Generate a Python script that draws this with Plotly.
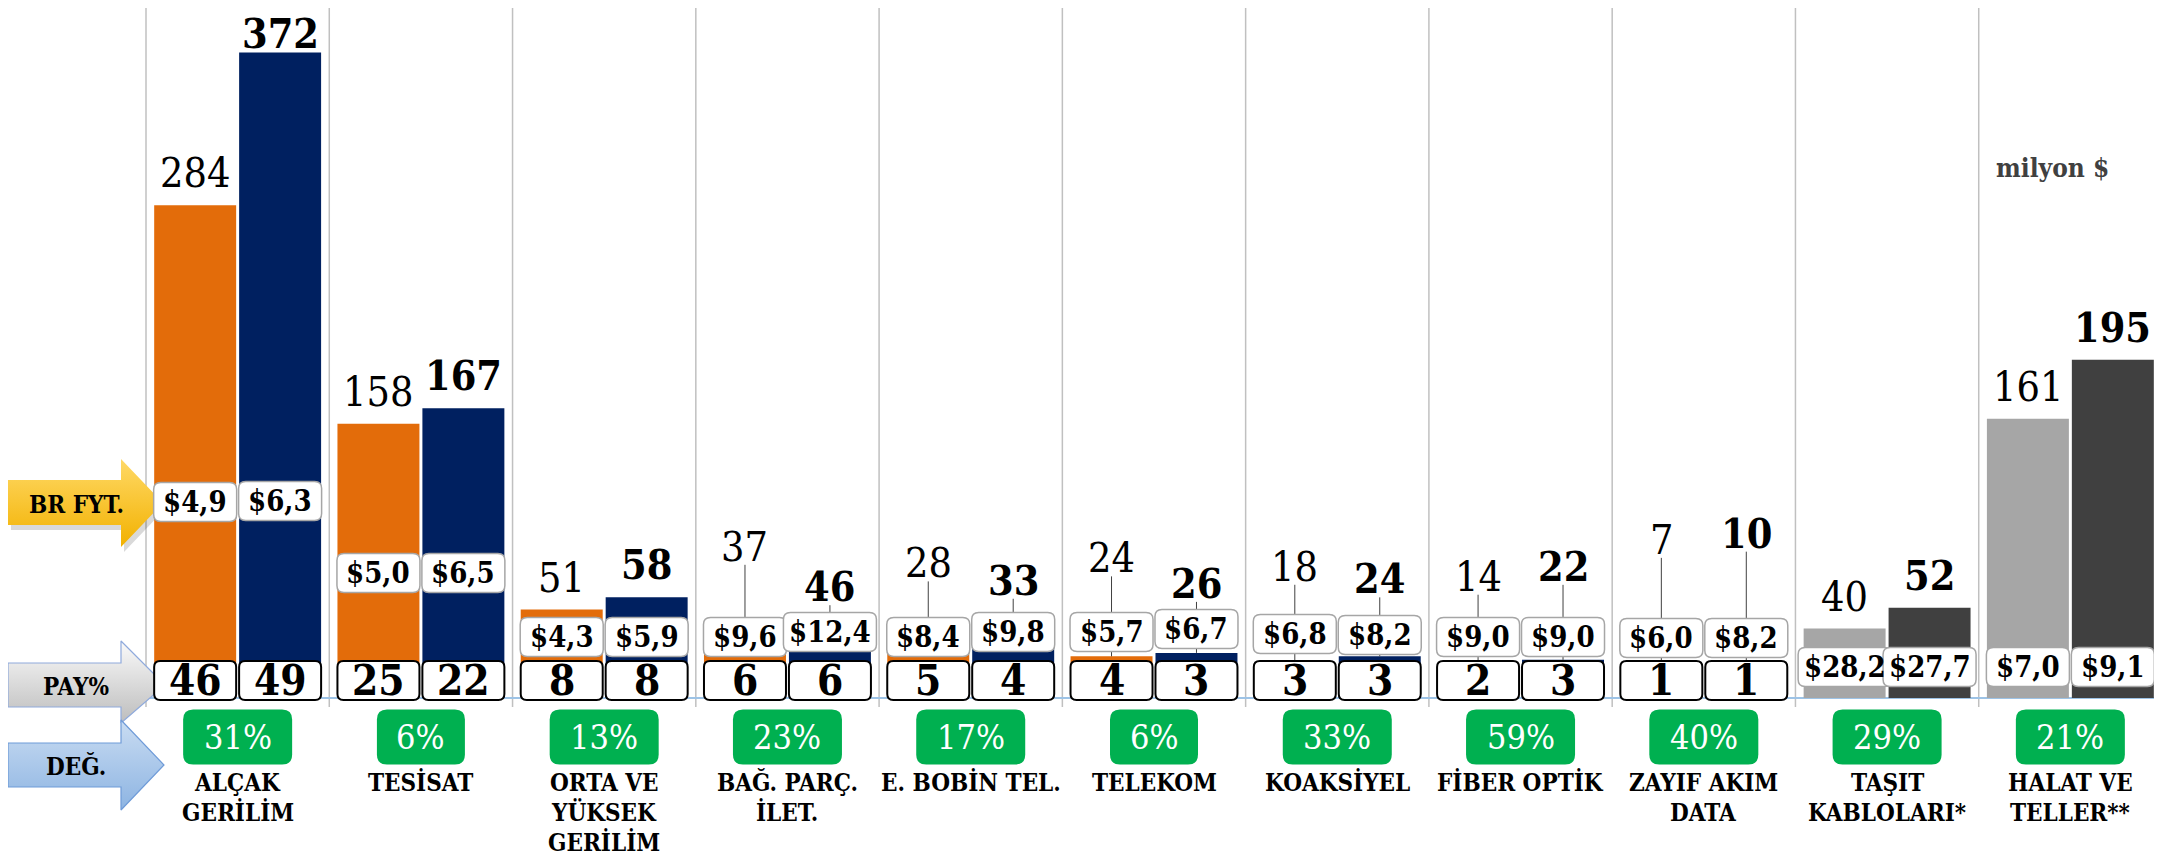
import plotly.graph_objects as go

# ---------------- data ----------------
categories = ["ALÇAK<br>GERİLİM", "TESİSAT", "ORTA VE<br>YÜKSEK<br>GERİLİM", "BAĞ. PARÇ.<br>İLET.",
              "E. BOBİN TEL.", "TELEKOM", "KOAKSİYEL", "FİBER OPTİK", "ZAYIF AKIM<br>DATA",
              "TAŞIT<br>KABLOLARI*", "HALAT VE<br>TELLER**"]
value_prev = [284, 158, 51, 37, 28, 24, 18, 14, 7, 40, 161]
value_curr = [372, 167, 58, 46, 33, 26, 24, 22, 10, 52, 195]
price_prev = [4.9, 5.0, 4.3, 9.6, 8.4, 5.7, 6.8, 9.0, 6.0, 28.2, 7.0]
price_curr = [6.3, 6.5, 5.9, 12.4, 9.8, 6.7, 8.2, 9.0, 8.2, 27.7, 9.1]
share_prev = [46, 25, 8, 6, 5, 4, 3, 2, 1, None, None]
share_curr = [49, 22, 8, 6, 4, 3, 3, 3, 1, None, None]
change_pct = [31, 6, 13, 23, 17, 6, 33, 59, 40, 29, 21]
row_labels = ["BR FYT.", "PAY%", "DEĞ."]
unit_label = "milyon $"

# ---------------- styles / layout ----------------
colors_prev = ["#E36C0A"] * 9 + ["#A6A6A6"] * 2
colors_curr = ["#002060"] * 9 + ["#404040"] * 2
FONT = "'DejaVu Serif Condensed', 'Liberation Serif', serif"

W, H = 2162, 855          # figure size
PAGE = 8                  # body margin of the page (figure drawn at 8,8)
PLOT_LEFT = 146           # page px of first category boundary
n = len(categories)
CAT_PX = (W - PLOT_LEFT) / n
BASE_PX = 698             # page px of the value axis zero line
PX_PER_UNIT = 1.735
xr = [-0.5 - (PLOT_LEFT - PAGE) / CAT_PX, -0.5 + (W + PAGE - PLOT_LEFT) / CAT_PX]
yr = [(BASE_PX - (H + PAGE)) / PX_PER_UNIT, (BASE_PX - PAGE) / PX_PER_UNIT]
BARGAP, BARGROUPGAP = 0.073, 0.035
OFF = (1 - BARGAP) / 4

# label placement (pixels above bar top / baseline)
lift_prev = [32, 32, 32, 87, 86, 98, 100, 97, 146, 32, 32]
lift_curr = [19, 32, 32, 31, 60, 69, 77, 93, 147, 32, 32]
leader_idx = {3, 4, 5, 6, 7, 8}
fyt_prev = [196, 125, 61, 61, 61, 66, 64, 61, 60, 31, 31]
fyt_curr = [197, 125, 61, 66, 66, 69, 63, 61, 60, 31, 31]

x = list(range(n))
fig = go.Figure()
fig.add_bar(x=x, y=value_prev, marker=dict(color=colors_prev, line=dict(width=0)), hoverinfo="skip")
fig.add_bar(x=x, y=value_curr, marker=dict(color=colors_curr, line=dict(width=0)), hoverinfo="skip")

shapes, annos = [], []

# vertical gridlines + baseline
for k in range(n + 1):
    shapes.append(dict(type="line", xref="x", yref="y", x0=k - 0.5, x1=k - 0.5, y0=-5.2, y1=400,
                       line=dict(color="#C0C0C0", width=1.5), layer="below"))
shapes.append(dict(type="line", xref="x", yref="y", x0=-0.5, x1=n - 0.5, y0=0, y1=0,
                   line=dict(color="#9DC3E6", width=2), layer="below"))


def rrect(w, yb, yt, r):
    x0, x1 = -w / 2, w / 2
    return (f"M{x0 + r},{yb} L{x1 - r},{yb} Q{x1},{yb} {x1},{yb + r} L{x1},{yt - r} "
            f"Q{x1},{yt} {x1 - r},{yt} L{x0 + r},{yt} Q{x0},{yt} {x0},{yt - r} "
            f"L{x0},{yb + r} Q{x0},{yb} {x0 + r},{yb} Z")


def box(xc, yc_px, w, h, r, fill, lcolor, lwidth):
    return dict(type="path", xref="x", yref="y", xsizemode="pixel", ysizemode="pixel",
                xanchor=xc, yanchor=0, path=rrect(w, yc_px - h / 2, yc_px + h / 2, r),
                fillcolor=fill, line=dict(color=lcolor, width=lwidth), layer="above")


def fmt_price(v):
    return ("$%.1f" % v).replace(".", ",")


series = [(-OFF, value_prev, lift_prev, price_prev, fyt_prev, share_prev, False),
          (OFF, value_curr, lift_curr, price_curr, fyt_curr, share_curr, True)]

# leader lines first (so boxes cover them)
for dx, vals, lifts, prices, fyts, shares, bold in series:
    for i in range(n):
        if i in leader_idx:
            shapes.append(dict(type="line", xref="x", yref="y", ysizemode="pixel", yanchor=vals[i],
                               x0=i + dx, x1=i + dx, y0=0, y1=lifts[i] - 18,
                               line=dict(color="#404040", width=1), layer="above"))

for dx, vals, lifts, prices, fyts, shares, bold in series:
    for i in range(n):
        xc = i + dx
        annos.append(dict(x=xc, y=vals[i], xref="x", yref="y", yshift=lifts[i], showarrow=False,
                          yanchor="middle", text=(f"<b>{vals[i]}</b>" if bold else str(vals[i])),
                          font=dict(family=FONT, size=41, color="black")))
        t = fmt_price(prices[i])
        shapes.append(box(xc, fyts[i], 43 + 10 * len(t), 39, 7, "white", "#A6A6A6", 1.5))
        annos.append(dict(x=xc, y=0, xref="x", yref="y", yshift=fyts[i], showarrow=False,
                          yanchor="middle", text=f"<b>{t}</b>",
                          font=dict(family=FONT, size=29, color="black")))
        if shares[i] is not None:
            shapes.append(box(xc, 17.5, 82, 39, 6, "white", "black", 2))
            annos.append(dict(x=xc, y=0, xref="x", yref="y", yshift=18, showarrow=False,
                              yanchor="middle", text=f"<b>{shares[i]}</b>",
                              font=dict(family=FONT, size=42, color="black")))

# change boxes + category labels
for i in range(n):
    t = f"{change_pct[i]}%"
    shapes.append(box(i, -39, 46 + 21 * len(t), 55, 10, "#00B050", "#00B050", 0))
    annos.append(dict(x=i, y=0, xref="x", yref="y", yshift=-39, showarrow=False, yanchor="middle",
                      text=t, font=dict(family=FONT, size=34, color="white")))
    for k, line in enumerate(categories[i].split("<br>")):
        annos.append(dict(x=i, y=0, xref="x", yref="y", yshift=-(84 + 30 * k), showarrow=False,
                          yanchor="middle", text=f"<b>{line}</b>",
                          font=dict(family=FONT, size=24, color="black")))

# left row-header arrows (overlay axes in page pixels)
arrows = [
    # x0, xh, xt, body_top, body_bot, head_top, head_bot, tip_y, c_top, c_bot, line_color, line_w
    (8, 121, 163, 480, 525, 459, 547, 503, "#FFD966", "#F2B100", "rgba(0,0,0,0)", 0),
    (8, 121, 165, 663, 707, 641, 723, 685, "#FAFAFA", "#BDBDBD", "#8FAADC", 1.2),
    (8, 121, 164, 743, 787, 720, 810, 765, "#C9DCF2", "#8DB4E2", "#6F9BD8", 1.2),
]
for j, (x0, xh, xt, bt, bb, ht, hb, ty, ct, cb, lc, lw) in enumerate(arrows):
    xs = [x0, xh, xh, xt, xh, xh, x0, x0]
    ys = [bt, bt, ht, ty, hb, bb, bb, bt]
    if j == 0:
        fig.add_trace(go.Scatter(x=[v + 3 for v in xs], y=[v + 5 for v in ys], xaxis="x2", yaxis="y2",
                                 mode="lines", fill="toself", fillcolor="rgba(0,0,0,0.15)",
                                 line=dict(width=0), hoverinfo="skip", showlegend=False))
    fig.add_trace(go.Scatter(x=xs, y=ys, xaxis="x2", yaxis="y2", mode="lines", fill="toself",
                             fillgradient=dict(type="vertical", colorscale=[[0, ct], [1, cb]],
                                               start=ht, stop=hb),
                             line=dict(color=lc, width=lw), hoverinfo="skip", showlegend=False))
    annos.append(dict(x=76, y=ty + 1, xref="x2", yref="y2", showarrow=False, yanchor="middle",
                      text=f"<b>{row_labels[j]}</b>", font=dict(family=FONT, size=24, color="black")))

annos.append(dict(x=2052, y=168, xref="x2", yref="y2", showarrow=False, yanchor="middle",
                  text=f"<b>{unit_label}</b>", font=dict(family=FONT, size=26, color="#404040")))

fig.update_layout(
    width=W, height=H, margin=dict(l=0, r=0, t=0, b=0),
    paper_bgcolor="white", plot_bgcolor="white",
    barmode="group", bargap=BARGAP, bargroupgap=BARGROUPGAP, showlegend=False,
    xaxis=dict(range=xr, visible=False, domain=[0, 1], fixedrange=True),
    yaxis=dict(range=yr, visible=False, domain=[0, 1], fixedrange=True),
    xaxis2=dict(range=[PAGE, W + PAGE], overlaying="x", anchor="y2", visible=False, fixedrange=True),
    yaxis2=dict(range=[H + PAGE, PAGE], overlaying="y", anchor="x2", visible=False, fixedrange=True),
    shapes=shapes, annotations=annos,
)
fig.write_html("out.html")
